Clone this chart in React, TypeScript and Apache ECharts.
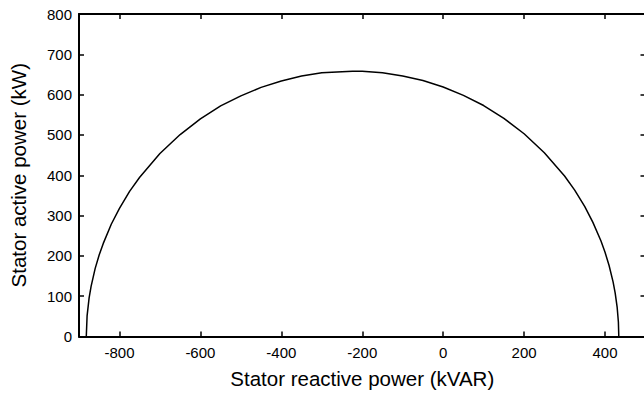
import React, { useEffect, useRef } from "react";
import * as echarts from "echarts";

// Stator reactive power Q (kVAR)
const reactivePower = [
  -882, -880, -875, -870, -860, -850, -840, -820, -800, -775, -750, -700,
  -650, -600, -550, -500, -450, -400, -350, -300, -250, -224, -200, -150,
  -100, -50, 0, 50, 100, 150, 200, 250, 300, 325, 350, 370, 390, 400, 410,
  420, 425, 430, 433, 434,
];
// Stator active power P (kW) at those points
const activePower = [
  0, 51, 96, 125, 169, 203, 231, 279, 318, 360, 395, 454,
  501, 540, 572, 597, 618, 634, 646, 654, 657, 658, 658, 654,
  646, 635, 619, 598, 573, 541, 503, 456, 398, 363, 322, 283, 237, 209, 176,
  135, 108, 72, 36, 0,
];

const xTicks = [-800, -600, -400, -200, 0, 200, 400];
const xTitle = "Stator reactive power (kVAR)";
const yTitle = "Stator active power (kW)";

const FONT = '"Liberation Sans", Arial, Helvetica, sans-serif';

export default function App() {
  const ref = useRef<HTMLDivElement>(null);

  useEffect(() => {
    if (!ref.current) return;
    const chart = echarts.init(ref.current, undefined, { renderer: "svg" });
    const data = reactivePower.map((q, i) => [q, activePower[i]]);

    const axisLine = { show: true, onZero: false, lineStyle: { color: "#000", width: 2 } };
    const tickStyle = { color: "#000", width: 1.5 };

    chart.setOption({
      animation: false,
      backgroundColor: "#fff",
      grid: {
        left: 79,
        right: -1.5,
        top: 14,
        bottom: 57.5,
        containLabel: false,
        outerBoundsMode: "none",
      },
      xAxis: [
        {
          type: "value",
          position: "bottom",
          min: -900,
          max: 500,
          axisLine,
          axisTick: { show: true, inside: true, length: 5, customValues: xTicks, lineStyle: tickStyle },
          axisLabel: {
            customValues: xTicks,
            color: "#000",
            fontSize: 15,
            fontFamily: FONT,
            margin: 8,
          },
          splitLine: { show: false },
          name: xTitle,
          nameLocation: "middle",
          nameGap: 31,
          nameTextStyle: { color: "#000", fontSize: 20.5, fontFamily: FONT },
        },
        {
          type: "value",
          position: "top",
          min: -900,
          max: 500,
          axisLine,
          axisTick: { show: true, inside: true, length: 5, customValues: xTicks, lineStyle: tickStyle },
          axisLabel: { show: false },
          splitLine: { show: false },
        },
      ],
      yAxis: [
        {
          type: "value",
          position: "left",
          min: 0,
          max: 800,
          interval: 100,
          axisLine,
          axisTick: { show: true, inside: true, length: 5, lineStyle: tickStyle },
          axisLabel: { color: "#000", fontSize: 15, fontFamily: FONT, margin: 7 },
          splitLine: { show: false },
          name: yTitle,
          nameLocation: "middle",
          nameGap: 50,
          nameTextStyle: { color: "#000", fontSize: 20.5, fontFamily: FONT },
        },
        {
          type: "value",
          position: "right",
          min: 0,
          max: 800,
          interval: 100,
          axisLine,
          axisTick: { show: true, inside: true, length: 5, lineStyle: tickStyle },
          axisLabel: { show: false },
          splitLine: { show: false },
        },
      ],
      series: [
        {
          type: "line",
          xAxisIndex: 0,
          yAxisIndex: 0,
          data,
          showSymbol: false,
          smooth: false,
          lineStyle: { color: "#000", width: 1.5 },
        },
      ],
    });

    return () => chart.dispose();
  }, []);

  return (
    <div
      ref={ref}
      style={{ position: "absolute", left: 0, top: 0, width: 644, height: 394 }}
    />
  );
}
